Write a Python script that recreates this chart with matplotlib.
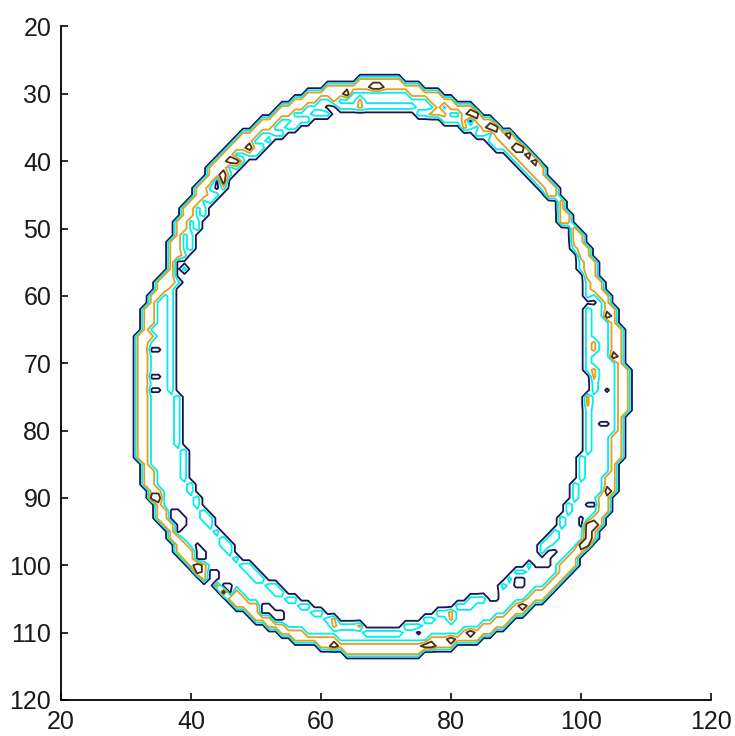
import numpy as np
import matplotlib
matplotlib.use("Agg")
import matplotlib.pyplot as plt

# ---- data (data coordinates) ----
outer_x = [67.5, 72.1, 79.8, 87.5, 93.7, 98.3, 101.4, 102.6, 104.7, 106.7, 107.1, 106.3, 105.1, 102.9,
           99.8, 96.0, 90.6, 84.4, 78.2, 72.1, 65.9, 61.3, 55.1, 49.0, 42.8, 38.2, 34.3, 32.0, 31.6,
           32.0, 33.6, 35.9, 37.4, 40.5, 45.9, 52.0, 59.8]
outer_y = [27.7, 28.0, 30.5, 34.7, 40.6, 48.0, 53.2, 56.9, 60.6, 68.0, 75.4, 82.8, 88.7, 94.7,
           99.1, 103.6, 107.3, 111.0, 112.4, 113.5, 113.5, 112.4, 111.0, 107.3, 102.8, 98.4, 91.7,
           84.3, 75.4, 65.0, 59.9, 56.9, 50.2, 44.3, 37.6, 33.2, 29.2]
inner_x = [67.1, 72.1, 78.2, 87.5, 94.4, 98.3, 100.6, 100.6, 100.6, 99.5, 96.7, 92.1, 84.4, 76.7,
           71.0, 62.8, 56.7, 50.5, 44.3, 40.5, 39.0, 38.2, 37.9, 37.4, 39.0, 40.5, 43.6, 49.0, 56.7, 62.8]
inner_y = [32.7, 32.7, 33.9, 38.4, 45.0, 51.7, 59.1, 68.0, 78.4, 85.8, 93.2, 99.1, 104.3, 107.3,
           109.5, 108.0, 105.0, 101.3, 94.7, 88.7, 82.8, 75.4, 66.5, 59.9, 56.9, 51.7, 45.8, 39.9,
           34.7, 32.7]

# dark (highest-level) spots
peak_x = [68.5, 63.9, 72.4, 79.8, 83.3, 86.4, 89.0, 90.6, 92.1, 93.2, 76.7, 79.8, 82.9, 90.9,
          100.3, 100.9, 61.8, 77.0, 40.8, 44.3, 46.2, 47.4, 49.0, 46.7, 44.7, 34.3, 104.0, 105.2,
          104.0, 101.7]
peak_y = [28.9, 29.9, 32.9, 35.0, 32.9, 35.0, 35.9, 37.9, 38.7, 40.1, 112.0, 111.0, 109.8, 106.1,
          96.9, 95.7, 112.0, 112.1, 100.6, 103.9, 105.8, 106.8, 38.1, 39.9, 42.5, 89.9, 63.1, 69.0,
          89.0, 93.9]

# orange patches inside the middle layer
patch_x = [62.0, 66.0, 78.0, 82.0, 88.0, 89.5, 101.8, 101.9, 100.8, 33.6, 62.0, 66.0, 80.0, 47.0]
patch_y = [31.5, 31.8, 33.0, 34.5, 39.5, 42.0, 67.5, 71.5, 75.5, 66.0, 108.5, 109.0, 107.6, 40.0]
patch_r = [1.0, 1.0, 1.0, 0.9, 1.1, 1.0, 0.8, 0.8, 0.8, 0.8, 1.0, 0.9, 0.9, 0.9]

# low-value islands inside the ring
hole_x = [38.2, 41.3, 43.6, 45.4, 51.3, 53.6, 37.9, 86.3, 90.4, 94.0, 95.4, 101.7, 103.8, 103.8,
          101.4, 100.3, 38.5, 37.7, 34.6, 34.6, 34.6, 82.9, 61.3, 95.7, 97.8, 43.9, 75.2]
hole_y = [94.2, 98.2, 101.3, 103.3, 106.4, 107.3, 92.6, 103.9, 102.8, 99.5, 97.9, 60.8, 74.2, 79.0,
          91.1, 93.6, 54.8, 56.6, 68.3, 72.0, 74.2, 33.6, 32.0, 46.4, 50.7, 43.3, 109.9]
hole_r = [0.9, 1.3, 1.1, 1.1, 1.0, 1.0, 1.2, 1.5, 1.2, 1.4, 0.9, 0.8, 0.8, 0.8, 0.8, 0.8, 0.8, 0.8,
          0.8, 0.8, 0.8, 0.8, 0.8, 0.9, 0.8, 0.8, 0.8]

# layer intensities
layer_values = {'outside': 0.0, 'middle': 1.2, 'inner': 2.0, 'patch': 2.8,
                'cortex': 3.1, 'spot': 4.3, 'hole': 0.2}
cortex_depth = 1.7
inner_depth = 1.0

levels = [0.5, 1.5, 2.5, 3.5]
line_colors = ['#161650', '#00eef0', '#e0a020', '#4a3010']

# ---- build the intensity image on the pixel grid ----
cx, cy = 69.0, 71.0
xs = np.arange(20, 121)
ys = np.arange(20, 121)
XX, YY = np.meshgrid(xs, ys)

def polar(px, py):
    px = np.asarray(px); py = np.asarray(py)
    th = np.arctan2(py - cy, px - cx)
    r = np.hypot(px - cx, py - cy)
    o = np.argsort(th)
    return th[o], r[o]

tho, ro = polar(outer_x, outer_y)
thi, ri = polar(inner_x, inner_y)
TH = np.arctan2(YY - cy, XX - cx)
RR = np.hypot(XX - cx, YY - cy)
Ro = np.interp(TH, tho, ro, period=2 * np.pi)
Ri = np.interp(TH, thi, ri, period=2 * np.pi)
do = Ro - RR
di = RR - Ri
inside = (do > 0) & (di > 0)

F = np.full(XX.shape, layer_values['outside'])
F[inside] = layer_values['middle']
F[inside & (di < inner_depth)] = layer_values['inner']
for qx, qy, qr in zip(patch_x, patch_y, patch_r):
    F[inside & (np.hypot(XX - qx, YY - qy) <= qr)] = layer_values['patch']
F[inside & (do < cortex_depth)] = layer_values['cortex']
for hx, hy, hr in zip(hole_x, hole_y, hole_r):
    F[inside & (np.hypot(XX - hx, YY - hy) <= hr)] = layer_values['hole']
for px_, py_ in zip(peak_x, peak_y):
    F[inside & (np.hypot(XX - px_, YY - py_) <= 0.75)] = layer_values['spot']

# ---- draw ----
fig = plt.figure(figsize=(7.35, 7.36), dpi=100)
ax = fig.add_axes([0.0830, 0.0490, 0.8844, 0.9150])
ax.contour(XX, YY, F, levels=levels, colors=line_colors, linewidths=1.3)
ax.set_xlim(20, 120)
ax.set_ylim(120, 20)
ax.set_xticks([20, 40, 60, 80, 100, 120])
ax.set_yticks([20, 30, 40, 50, 60, 70, 80, 90, 100, 110, 120])
for s in ['top', 'right']:
    ax.spines[s].set_visible(False)
for s in ['left', 'bottom']:
    ax.spines[s].set_linewidth(1.3)
ax.tick_params(direction='in', length=5, width=1.3, labelsize=18, pad=7, colors='#1a1a1a')
for lab in ax.get_xticklabels() + ax.get_yticklabels():
    lab.set_family(['Liberation Sans'])
fig.savefig('out.png', dpi=100)
